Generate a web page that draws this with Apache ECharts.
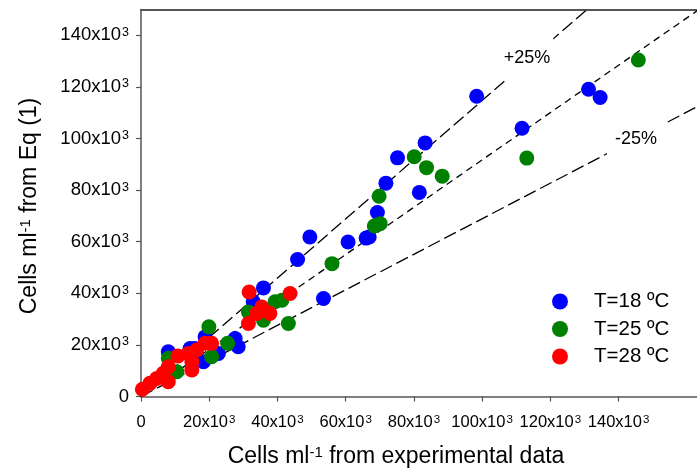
<!DOCTYPE html>
<html>
<head>
<meta charset="utf-8">
<script src="https://cdn.jsdelivr.net/npm/echarts@6/dist/echarts.min.js"></script>
<style>
  html, body { margin: 0; padding: 0; background: #fff; }
  #chart { width: 697px; height: 475px; }
</style>
</head>
<body>
<div id="chart"></div>
<script>
// Values are in thousands of cells per ml: [experimental, Eq (1)]
const seriesNames = ['T=18 ºC', 'T=25 ºC', 'T=28 ºC'];

const t18 = [
  [8.0, 17.3], [8.3, 15.7], [14.4, 18.6], [15.8, 18.6], [18.3, 13.5], [18.8, 23.1],
  [22.7, 16.7], [27.6, 22.5], [28.5, 19.3], [32.9, 36.7], [35.9, 42.1], [45.9, 53.1],
  [49.5, 61.8], [53.5, 38.0], [60.7, 59.9], [66.0, 61.4], [66.9, 61.8], [69.3, 71.3],
  [71.8, 82.7], [75.2, 92.5], [81.6, 79.1], [83.3, 98.3], [98.4, 116.4], [111.7, 104.0],
  [131.2, 119.1], [134.6, 115.9]
];

const t25 = [
  [8.0, 14.8], [10.5, 9.6], [19.9, 27.0], [20.7, 15.4], [25.4, 20.6], [31.5, 32.8],
  [35.9, 29.6], [39.3, 36.7], [41.3, 37.3], [43.2, 28.3], [56.0, 51.5], [68.4, 66.1],
  [70.1, 67.0], [69.8, 77.6], [80.1, 92.9], [83.7, 88.7], [88.3, 85.4], [113.1, 92.4],
  [145.8, 130.4]
];

const t28 = [
  [0.4, 2.8], [2.6, 5.1], [4.6, 7.0], [6.5, 9.0], [8.0, 5.7], [8.0, 11.5], [10.8, 15.7],
  [13.9, 16.7], [14.9, 10.3], [14.9, 13.5], [16.3, 18.0], [18.8, 20.6], [20.7, 20.6],
  [31.5, 28.3], [33.9, 32.2], [35.4, 34.7], [37.8, 32.2], [31.7, 40.5], [43.7, 39.9]
];

// Reference lines through the origin: fit, +25 % and -25 %
const refLabels = ['fit', '+25%', '-25%'];
const refSlopes = [0.917, 1.147, 0.689];

const xTicks = [0, 20, 40, 60, 80, 100, 120, 140];
const yTicks = [0, 20, 40, 60, 80, 100, 120, 140];
const xMax = 163;
const yMax = 150;

const FONT = 'Liberation Sans, Arial, sans-serif';
const AXIS_COLOR = '#555';
const colors = ['#0000ff', '#008000', '#ff0000'];

const tickLabel = v => (v === 0 ? '0' : '{n|' + v + 'x10}{s|3}');
const richFor = (size, supSize) => ({
  n: { fontSize: size, fontFamily: FONT, color: '#000' },
  s: { fontSize: supSize, fontFamily: FONT, color: '#000', verticalAlign: 'top', padding: [0, 0, 0, 1] }
});

const titleRich = {
  b: { fontSize: 23, fontFamily: FONT, fill: '#000', color: '#000' },
  s: { fontSize: 15, fontFamily: FONT, fill: '#000', color: '#000', verticalAlign: 'top' }
};

const chart = echarts.init(document.getElementById('chart'), null, { renderer: 'canvas' });

const refSeries = refSlopes.map((k, i) => ({
  name: refLabels[i],
  type: 'line',
  data: [[0, 0], [xMax, k * xMax]],
  symbol: 'none',
  silent: true,
  clip: true,
  z: 1,
  lineStyle: { color: '#000', width: 1.3, type: i === 0 ? [7, 5] : [13, 5] }
}));

const dotSeries = [t18, t25, t28].map((d, i) => ({
  name: seriesNames[i],
  type: 'scatter',
  data: d,
  symbol: 'circle',
  symbolSize: 15,
  z: 2 + i,
  itemStyle: { color: colors[i], opacity: 1 }
}));

chart.setOption({
  animation: false,
  backgroundColor: '#fff',
  grid: { left: 141, right: 0, top: 9.5, bottom: 78.5, containLabel: false },
  xAxis: [
    {
      type: 'value', min: 0, max: xMax, interval: 20,
      axisLine: { show: true, lineStyle: { color: AXIS_COLOR, width: 1.5 } },
      axisTick: { show: true, inside: false, length: 5, customValues: xTicks, lineStyle: { color: AXIS_COLOR, width: 1.2 } },
      axisLabel: {
        customValues: xTicks, margin: 17, hideOverlap: false, showMinLabel: true, showMaxLabel: true,
        formatter: tickLabel, rich: richFor(16.5, 11.5), fontSize: 16.5, fontFamily: FONT, color: '#000'
      },
      splitLine: { show: false }
    },
    {
      type: 'value', position: 'top', min: 0, max: xMax,
      axisLine: { show: true, onZero: false, lineStyle: { color: AXIS_COLOR, width: 1.8 } },
      axisTick: { show: false }, axisLabel: { show: false }, splitLine: { show: false }
    }
  ],
  yAxis: {
    type: 'value', min: 0, max: yMax, interval: 20,
    axisLine: { show: true, lineStyle: { color: AXIS_COLOR, width: 1.5 } },
    axisTick: { show: true, inside: false, length: 5, customValues: yTicks, lineStyle: { color: AXIS_COLOR, width: 1.2 } },
    axisLabel: {
      customValues: yTicks, margin: 12, hideOverlap: false,
      formatter: tickLabel, rich: richFor(18.5, 12.5), fontSize: 18.5, fontFamily: FONT, color: '#000'
    },
    splitLine: { show: false }
  },
  legend: {
    orient: 'vertical',
    left: 547, top: 286,
    itemWidth: 16, itemHeight: 16, itemGap: 6.5,
    icon: 'circle',
    data: seriesNames,
    textStyle: { fontSize: 20.5, lineHeight: 20, fontFamily: FONT, color: '#000', padding: [0, 0, 0, 21] }
  },
  graphic: [
    {
      type: 'text', x: 396, y: 457, z: 100,
      style: { text: '{b|Cells ml}{s|-1}{b| from experimental data}', align: 'center', verticalAlign: 'middle', rich: titleRich }
    },
    {
      type: 'text', x: 30, y: 206, rotation: Math.PI / 2, z: 100,
      style: { text: '{b|Cells ml}{s|-1}{b| from Eq (1)}', align: 'center', verticalAlign: 'middle', rich: titleRich }
    },
    {
      type: 'text', x: 527, y: 58, z: 100,
      style: {
        text: '+25%', align: 'center', verticalAlign: 'middle', fontSize: 18, fontFamily: FONT, fill: '#000',
        backgroundColor: '#fff', padding: [13, 3]
      }
    },
    {
      type: 'text', x: 636, y: 139, z: 100,
      style: {
        text: '-25%', align: 'center', verticalAlign: 'middle', fontSize: 18, fontFamily: FONT, fill: '#000',
        backgroundColor: '#fff', padding: [13, 8]
      }
    }
  ],
  series: refSeries.concat(dotSeries)
});
</script>
</body>
</html>
